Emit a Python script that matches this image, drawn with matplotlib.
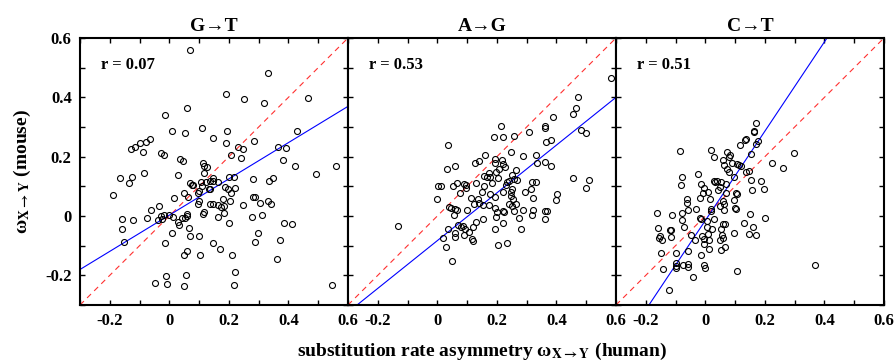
import numpy as np
import matplotlib
matplotlib.use("Agg")
import matplotlib.pyplot as plt
from matplotlib.ticker import MultipleLocator, FuncFormatter

plt.rcParams['font.family'] = ['Liberation Serif', 'DejaVu Serif']
plt.rcParams['font.weight'] = 'bold'
plt.rcParams['mathtext.fontset'] = 'stix'

titles = ["G\u2192T", "A\u2192G", "C\u2192T"]
r_values = ["0.07", "0.53", "0.51"]
# fitted regression lines (slope, intercept)
fits = [(0.611, 0.003), (0.805, -0.083), (1.505, -0.015)]

gt_x = [0.071, 0.331, 0.191, 0.252, 0.467, 0.317, 0.060, -0.013, 0.110, 0.008, 0.052, 0.194,
        0.430, 0.148, -0.066, -0.080, -0.097, -0.114, -0.129, 0.191, 0.286, 0.230, 0.249, 0.365,
        0.393, -0.088, -0.027, -0.019, 0.208, 0.242, 0.035, 0.046, 0.381, 0.113, 0.115, 0.126,
        0.423, 0.561, 0.492, -0.085, 0.117, 0.029, -0.164, -0.127, -0.137, 0.202, 0.216, 0.280,
        0.336, 0.349, 0.146, 0.147, 0.136, 0.124, 0.107, 0.162, 0.069, 0.075, 0.079, 0.109,
        0.186, 0.197, 0.219, 0.133, 0.138, 0.099, 0.095, 0.207, 0.048, -0.190, 0.064, 0.016,
        0.282, 0.289, 0.181, 0.098, 0.205, 0.306, 0.097, 0.135, 0.146, 0.162, 0.174, 0.184,
        0.248, 0.330, 0.343, -0.035, 0.116, 0.113, -0.063, 0.185, 0.311, -0.017, -0.002, 0.012,
        -0.027, 0.060, 0.061, -0.158, -0.122, -0.074, -0.039, -0.023, 0.041, 0.051, 0.165, 0.277,
        0.201, 0.384, 0.412, 0.029, 0.033, -0.158, 0.066, 0.009, 0.297, 0.070, 0.099, -0.153,
        -0.016, 0.146, 0.289, 0.371, 0.060, 0.049, 0.102, 0.171, 0.210, 0.360, 0.222, -0.011,
        0.056, -0.048, -0.009, 0.049, 0.218, 0.545]
gt_y = [0.561, 0.481, 0.411, 0.395, 0.398, 0.380, 0.365, 0.340, 0.298, 0.287, 0.280, 0.286,
        0.286, 0.262, 0.258, 0.249, 0.246, 0.234, 0.225, 0.247, 0.252, 0.234, 0.225, 0.234,
        0.230, 0.217, 0.213, 0.205, 0.205, 0.195, 0.192, 0.185, 0.189, 0.177, 0.168, 0.165,
        0.168, 0.168, 0.141, 0.145, 0.145, 0.137, 0.129, 0.131, 0.112, 0.131, 0.132, 0.126,
        0.118, 0.129, 0.127, 0.118, 0.118, 0.114, 0.113, 0.114, 0.110, 0.103, 0.105, 0.101,
        0.098, 0.092, 0.095, 0.090, 0.091, 0.084, 0.076, 0.078, 0.078, 0.071, 0.064, 0.061,
        0.064, 0.064, 0.056, 0.051, 0.049, 0.043, 0.039, 0.040, 0.040, 0.037, 0.031, 0.034,
        0.038, 0.049, 0.039, 0.034, 0.015, 0.008, 0.019, 0.009, 0.003, 0.004, 0.002, -0.002,
        -0.001, 0.006, -0.001, -0.011, -0.013, -0.008, -0.015, -0.011, -0.008, -0.008, -0.004, -0.004,
        -0.024, -0.024, -0.028, -0.020, -0.030, -0.045, -0.039, -0.058, -0.058, -0.067, -0.067, -0.086,
        -0.091, -0.090, -0.087, -0.080, -0.119, -0.132, -0.130, -0.110, -0.131, -0.145, -0.188, -0.202,
        -0.200, -0.226, -0.228, -0.235, -0.234, -0.233]

ag_x = [0.582, 0.474, 0.465, 0.456, 0.389, 0.360, 0.360, 0.213, 0.222, 0.258, 0.191, 0.308,
        0.482, 0.498, 0.382, 0.364, 0.037, 0.249, 0.161, 0.288, 0.332, 0.195, 0.217, 0.141,
        0.127, 0.336, 0.360, 0.222, 0.192, 0.059, 0.226, 0.031, 0.382, 0.206, 0.197, 0.172,
        0.263, 0.156, 0.168, 0.176, 0.203, 0.251, 0.257, 0.456, 0.508, 0.269, 0.242, 0.318,
        0.332, 0.130, 0.067, 0.002, 0.012, 0.051, 0.089, 0.097, 0.096, 0.157, 0.184, 0.229,
        0.235, 0.251, 0.315, 0.498, 0.151, 0.220, 0.246, 0.294, 0.075, 0.402, 0.178, 0.112,
        0.137, 0.192, 0.247, 0.253, 0.322, 0.397, -0.002, 0.124, 0.141, 0.155, 0.172, 0.240,
        0.251, 0.264, 0.038, 0.047, 0.058, 0.067, 0.100, 0.194, 0.219, 0.225, 0.202, 0.257,
        0.289, 0.322, 0.361, 0.369, 0.055, 0.318, 0.198, 0.153, 0.360, 0.130, 0.221, 0.069,
        0.078, 0.085, 0.275, -0.131, 0.036, 0.092, 0.121, 0.193, 0.108, 0.061, 0.282, 0.019,
        0.059, 0.089, 0.115, 0.120, 0.203, 0.234, 0.028, 0.050]
ag_y = [0.464, 0.400, 0.364, 0.345, 0.333, 0.303, 0.297, 0.305, 0.267, 0.271, 0.265, 0.284,
        0.289, 0.281, 0.256, 0.249, 0.241, 0.215, 0.205, 0.201, 0.206, 0.192, 0.189, 0.185,
        0.178, 0.180, 0.182, 0.174, 0.177, 0.169, 0.165, 0.160, 0.169, 0.158, 0.149, 0.146,
        0.154, 0.136, 0.131, 0.131, 0.127, 0.137, 0.126, 0.129, 0.123, 0.122, 0.119, 0.114,
        0.114, 0.111, 0.111, 0.101, 0.101, 0.101, 0.109, 0.103, 0.093, 0.100, 0.111, 0.105,
        0.115, 0.092, 0.090, 0.093, 0.080, 0.082, 0.081, 0.081, 0.076, 0.073, 0.073, 0.062,
        0.056, 0.065, 0.067, 0.056, 0.059, 0.054, 0.056, 0.040, 0.044, 0.038, 0.037, 0.040,
        0.034, 0.040, 0.031, 0.026, 0.024, 0.020, 0.020, 0.026, 0.017, 0.012, 0.015, 0.017,
        0.020, 0.020, 0.018, 0.017, 0.004, 0.003, -0.004, -0.010, -0.011, -0.020, -0.022, -0.031,
        -0.036, -0.034, -0.007, -0.035, -0.043, -0.045, -0.038, -0.045, -0.055, -0.058, -0.045, -0.073,
        -0.070, -0.064, -0.076, -0.083, -0.098, -0.090, -0.104, -0.151]

ct_x = [0.171, 0.165, 0.162, 0.138, 0.133, 0.118, 0.177, 0.171, -0.084, 0.018, 0.072, 0.082,
        0.081, 0.030, 0.153, 0.298, 0.059, 0.091, 0.223, 0.112, 0.120, 0.108, 0.062, 0.261,
        0.073, 0.081, 0.138, 0.147, 0.096, -0.080, -0.024, 0.040, 0.032, 0.028, 0.153, 0.187,
        -0.013, -0.004, 0.052, 0.068, -0.081, 0.048, 0.196, 0.157, -0.008, 0.009, 0.041, 0.068,
        0.103, 0.106, -0.019, 0.017, -0.060, 0.097, 0.060, 0.062, -0.060, 0.050, -0.058, -0.030,
        0.019, 0.020, 0.064, 0.099, 0.102, -0.163, -0.112, -0.080, -0.078, -0.019, -0.016, 0.007,
        0.030, 0.059, 0.065, 0.130, 0.151, 0.202, -0.160, -0.120, -0.115, -0.073, 0.006, 0.024,
        0.052, 0.160, -0.047, -0.011, 0.010, 0.055, 0.096, 0.147, 0.170, -0.155, -0.151, -0.146,
        -0.116, -0.035, -0.006, 0.011, 0.048, 0.059, -0.003, 0.012, 0.066, 0.054, -0.149, -0.097,
        -0.059, -0.016, -0.097, -0.097, -0.100, -0.074, -0.058, -0.057, -0.006, -0.002, -0.142, -0.041,
        0.106, 0.368, -0.121]
ct_y = [0.312, 0.288, 0.284, 0.260, 0.257, 0.241, 0.254, 0.244, 0.220, 0.224, 0.215, 0.206,
        0.200, 0.198, 0.210, 0.211, 0.188, 0.177, 0.178, 0.172, 0.170, 0.174, 0.172, 0.161,
        0.157, 0.150, 0.150, 0.151, 0.133, 0.133, 0.142, 0.119, 0.115, 0.119, 0.123, 0.118,
        0.107, 0.094, 0.114, 0.109, 0.103, 0.098, 0.090, 0.087, 0.078, 0.080, 0.086, 0.077,
        0.077, 0.073, 0.062, 0.056, 0.056, 0.055, 0.049, 0.040, 0.043, 0.034, 0.020, 0.022,
        0.022, 0.017, 0.021, 0.028, 0.025, 0.010, 0.004, 0.010, -0.013, -0.006, -0.011, -0.017,
        -0.011, -0.026, -0.028, -0.025, 0.008, -0.008, -0.039, -0.047, -0.047, -0.038, -0.037, -0.045,
        -0.043, -0.036, -0.063, -0.067, -0.062, -0.063, -0.056, -0.062, -0.065, -0.074, -0.068, -0.081,
        -0.072, -0.081, -0.078, -0.081, -0.082, -0.073, -0.093, -0.112, -0.103, -0.113, -0.126, -0.126,
        -0.118, -0.132, -0.160, -0.169, -0.175, -0.165, -0.163, -0.172, -0.165, -0.175, -0.180, -0.207,
        -0.185, -0.165, -0.250]

xs = [gt_x, ag_x, ct_x]
ys = [gt_y, ag_y, ct_y]


def fmt(v, pos):
    if abs(v) < 1e-9:
        return "0"
    return "%.1f" % v


fig = plt.figure(figsize=(8.95, 3.62), dpi=100)
left0 = 80 / 895
w = 268 / 895
bottom = 57 / 362
h = 267 / 362

for i in range(3):
    ax = fig.add_axes([left0 + i * w, bottom, w, h])
    ax.set_xlim(-0.3, 0.6)
    ax.set_ylim(-0.3, 0.6)
    line = np.array([-0.3, 0.6])
    ax.plot(line, line, color='#ff3030', lw=0.8, dashes=(5, 4))
    k, b = fits[i]
    ax.plot(line, k * line + b, color='blue', lw=0.8)
    ax.plot(xs[i], ys[i], 'o', mfc='none', mec='black', ms=4.3, mew=0.8)
    ax.text(0.08, 0.9, "r = " + r_values[i], transform=ax.transAxes,
            fontsize=12, fontweight='bold', va='center')
    ax.set_title(titles[i], fontsize=14, fontweight='bold', pad=5)
    ax.xaxis.set_major_locator(MultipleLocator(0.2))
    ax.xaxis.set_minor_locator(MultipleLocator(0.1))
    ax.yaxis.set_major_locator(MultipleLocator(0.2))
    ax.yaxis.set_minor_locator(MultipleLocator(0.1))
    ax.xaxis.set_major_formatter(FuncFormatter(fmt))
    ax.yaxis.set_major_formatter(FuncFormatter(fmt))
    ax.tick_params(which='both', direction='in', top=True, right=True,
                   length=3.5, width=1.0, labelsize=12, pad=6)
    for lab in ax.get_xticklabels() + ax.get_yticklabels():
        lab.set_fontweight('bold')
    for s in ax.spines.values():
        s.set_linewidth(1.5)
    if i > 0:
        ax.tick_params(labelleft=False)

sub = r"$_{\mathrm{X\rightarrow Y}}$"
fig.text(0.025, bottom + h / 2, "\u03c9" + sub + " (mouse)",
         rotation=90, ha='center', va='center', fontsize=14, fontweight='bold')
fig.text(left0 + 1.5 * w, 0.03, "substitution rate asymmetry \u03c9" + sub + " (human)",
         ha='center', va='center', fontsize=14, fontweight='bold')

fig.savefig("out.png", dpi=100)
